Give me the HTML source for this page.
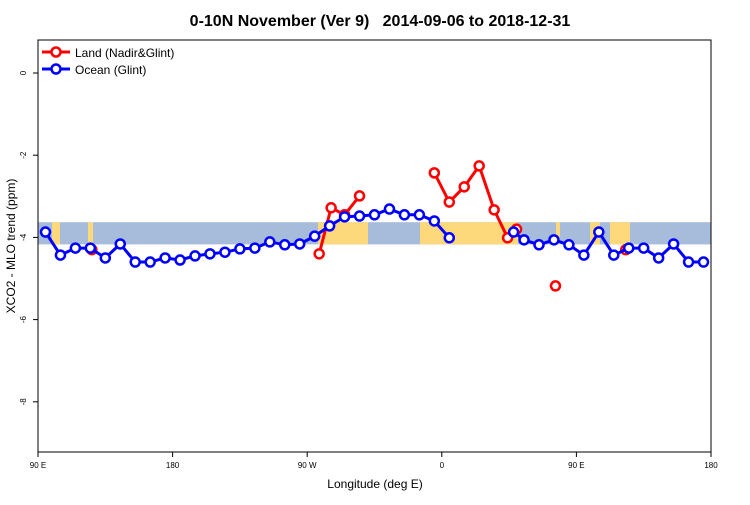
<!DOCTYPE html>
<html><head><meta charset="utf-8"><style>
body{margin:0;background:#fff;}
svg text{font-family:"Liberation Sans",sans-serif;}
</style></head><body>
<svg id="chart" width="750" height="500" xmlns="http://www.w3.org/2000/svg">
<text x="380" y="26" text-anchor="middle" font-size="16" font-weight="bold" style="white-space:pre" xml:space="preserve">0-10N November (Ver 9)   2014-09-06 to 2018-12-31</text>
<g id="bg"></g>
<g id="axes"></g>
<g id="series"></g>
<g>
<line x1="42" y1="52" x2="70" y2="52" stroke="#f00" stroke-width="3"/><circle cx="56" cy="52" r="4.5" fill="#fff" stroke="#f00" stroke-width="2.5"/>
<text x="75" y="57" font-size="12">Land (Nadir&amp;Glint)</text>
<line x1="42" y1="69" x2="70" y2="69" stroke="#00f" stroke-width="3"/><circle cx="56" cy="69" r="4.5" fill="#fff" stroke="#00f" stroke-width="2.5"/>
<text x="75" y="74" font-size="12">Ocean (Glint)</text>
</g>
<text x="375" y="488" text-anchor="middle" font-size="12">Longitude (deg E)</text>
<text transform="translate(15,246) rotate(-90)" text-anchor="middle" font-size="12">XCO2 - MLO trend (ppm)</text>
</svg>
<script>
const xTickLons=[90,180,270,360,450,540];
const xTickLabels=["90 E","180","90 W","0","90 E","180"];
const yTicks=[0,-2,-4,-6,-8];
const oceanLons=[95,105,115,125,135,145,155,165,175,185,195,205,215,225,235,245,255,265,275,285,295,305,315,325,335,345,355,365,null,408,415,425,435,445,455,465,475,485,495,505,515,525,535];
const oceanVals=[-3.87,-4.43,-4.26,-4.26,-4.5,-4.16,-4.6,-4.6,-4.5,-4.55,-4.45,-4.4,-4.36,-4.28,-4.26,-4.11,-4.18,-4.16,-3.97,-3.72,-3.5,-3.48,-3.45,-3.31,-3.45,-3.45,-3.6,-4.01,null,-3.87,-4.06,-4.18,-4.06,-4.18,-4.43,-3.87,-4.43,-4.26,-4.26,-4.5,-4.16,-4.6,-4.6,-4.5];
const landLons=[126,null,278,286,295,305,null,355,365,375,385,395,404,410,null,436,null,483];
const landVals=[-4.3,null,-4.4,-3.28,-3.45,-2.99,null,-2.43,-3.14,-2.77,-2.26,-3.33,-4.01,-3.8,null,-5.18,null,-4.3];
const X0=38,X1=711,Y0=40,Y1=452;
function xs(l){return X0+(l-90)*(X1-X0)/450;}
function ys(v){return 73+(0-v)*41.1;}
const NS="http://www.w3.org/2000/svg";
function mk(t,a,p){const e=document.createElementNS(NS,t);for(const k in a)e.setAttribute(k,a[k]);p.appendChild(e);return e;}
const bg=document.getElementById('bg'),ax=document.getElementById('axes'),se=document.getElementById('series');
const band=mk('rect',{x:X0,y:ys(-3.63),width:X1-X0,height:ys(-4.17)-ys(-3.63),fill:'#a7bcdb'},bg);


const landPatches=[[52,60],[88,93],[318,368],[420,518],[556,560],[590,600],[610,630]];
landPatches.forEach(p=>{const r=mk('rect',{x:p[0],y:ys(-3.63),width:p[1]-p[0],height:ys(-4.17)-ys(-3.63),fill:'#fdd97c'},bg);

});
const frame=mk('rect',{x:X0,y:Y0,width:X1-X0,height:Y1-Y0,fill:'none',stroke:'#000','stroke-width':1},ax);


xTickLons.forEach((l,i)=>{const x=xs(l);mk('line',{x1:x,y1:Y1,x2:x,y2:Y1+5,stroke:'#000'},ax);
const t=mk('text',{x:x,y:Y1+16,'text-anchor':'middle','font-size':8},ax);t.textContent=xTickLabels[i];

});
yTicks.forEach(v=>{const y=ys(v);mk('line',{x1:X0-5,y1:y,x2:X0,y2:y,stroke:'#000'},ax);
const t=mk('text',{transform:`translate(${X0-12},${y}) rotate(-90)`,'text-anchor':'middle','font-size':8},ax);t.textContent=v;

});
function draw(lons,vals,col,name){
  let seg=[];const segs=[];
  lons.forEach((l,i)=>{if(l===null){if(seg.length)segs.push(seg);seg=[];}else seg.push([xs(l),ys(vals[i])]);});
  if(seg.length)segs.push(seg);
  segs.forEach(s=>{if(s.length>1){const pl=mk('polyline',{points:s.map(p=>p.join(',')).join(' '),fill:'none',stroke:col,'stroke-width':3},se);
  
  }});
  segs.forEach(s=>s.forEach(p=>{const c=mk('circle',{cx:p[0],cy:p[1],r:4.5,fill:'#fff',stroke:col,'stroke-width':2.5},se);
  
  }));
}
draw(landLons,landVals,'#f00','land');
draw(oceanLons,oceanVals,'#00f','ocean');
</script>
</body></html>
